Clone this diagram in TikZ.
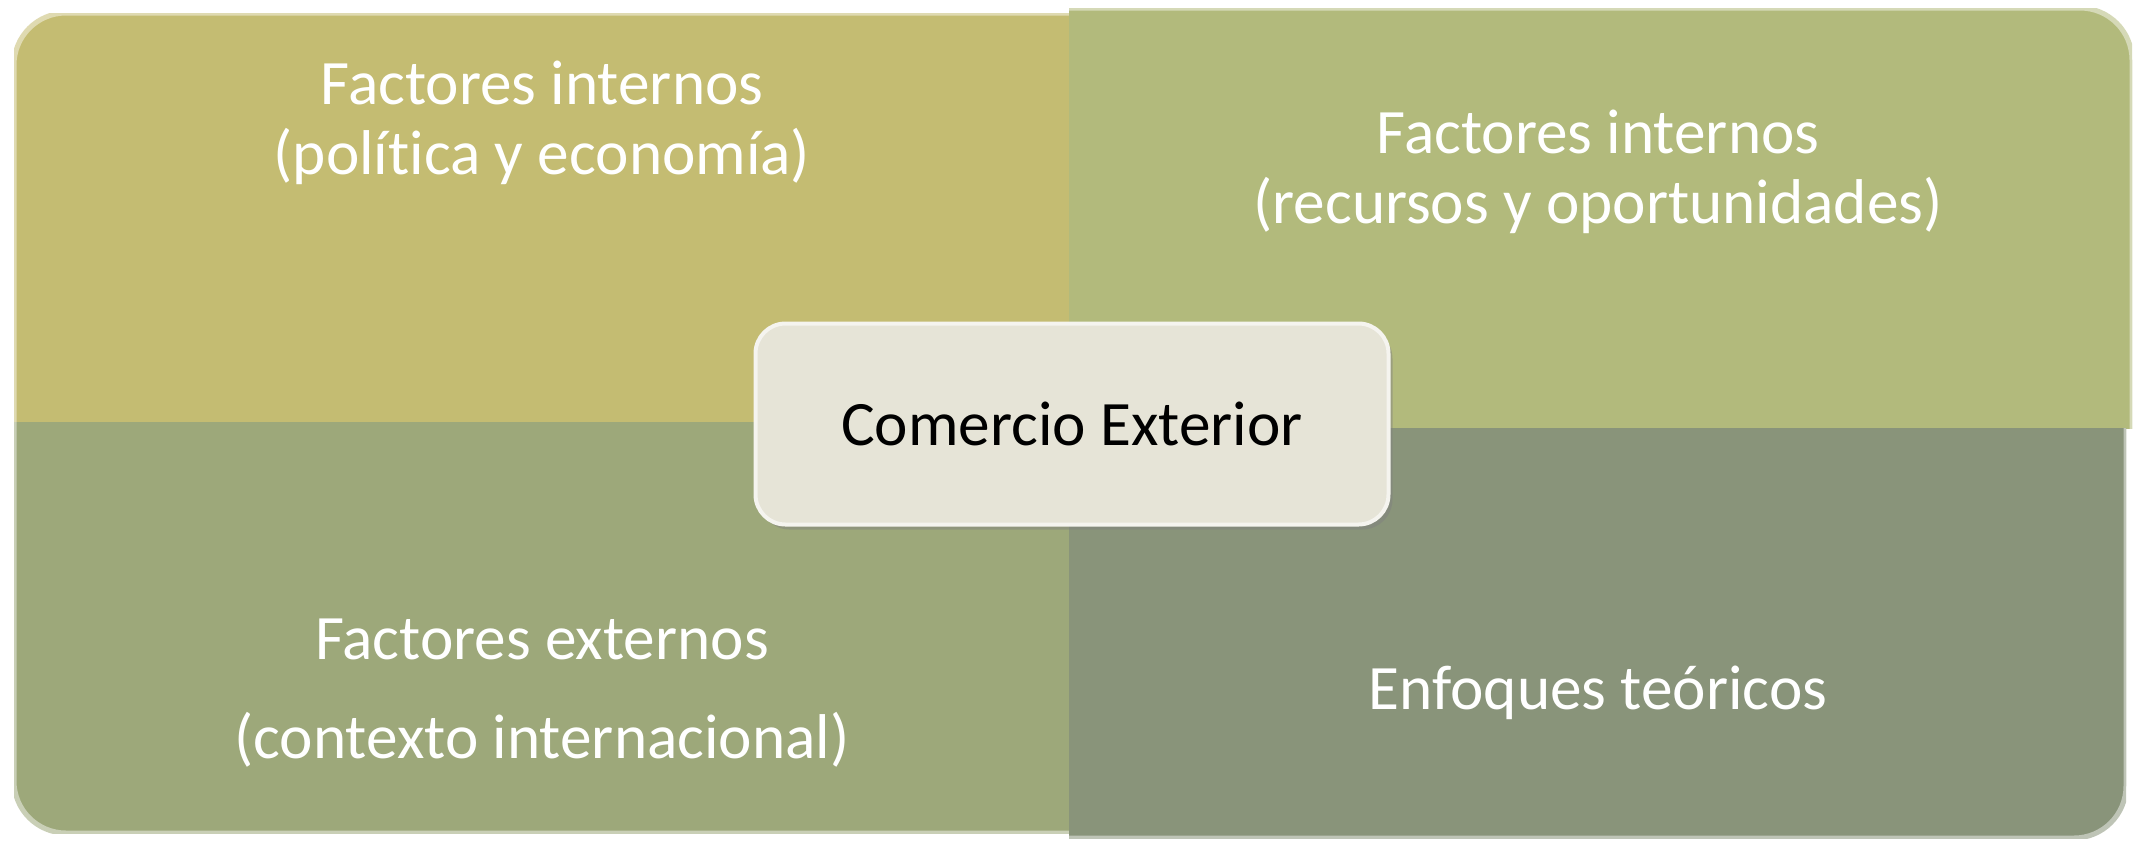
\documentclass[tikz,border=0pt]{standalone}
\usepackage{fontspec}
\setmainfont[Ligatures=NoCommon]{Carlito}
\usetikzlibrary{positioning, shadows}
\definecolor{tlfill}{HTML}{C4BC72}
\definecolor{trfill}{HTML}{B2BA7C}
\definecolor{blfill}{HTML}{9DA87A}
\definecolor{brfill}{HTML}{89947A}
\definecolor{hubfill}{HTML}{E6E4D7}
\tikzset{%
	quad/.style={line width=0.5mm, rounded corners=5.2mm},
	caption/.style={text=white, align=center, inner sep=0mm, font=\fontsize{18}{19.8}\selectfont},
	hub/.style={draw=hubfill!40!white, line width=0.4mm, rectangle, rounded corners=3mm, fill=hubfill,%
		minimum width=63.3mm, minimum height=20.1mm, font=\fontsize{18}{21}\selectfont,%
		drop shadow={shadow xshift=0.4mm, shadow yshift=-0.5mm, opacity=0.45}}
}

\begin{document}
\begin{tikzpicture}[x=0.1mm, y=-0.1mm]
	\useasboundingbox[fill=white] (0,0) rectangle (2136,844);

	% the four quarters, each with one rounded outer corner
	\begin{scope}
		\clip (14,13) rectangle (1069,422);
		\draw[quad, fill=tlfill, draw=tlfill!55!white] (14,13) rectangle (1300,700);
	\end{scope}
	\begin{scope}
		\clip (1069,8) rectangle (2132,428);
		\draw[quad, fill=trfill, draw=trfill!55!white] (800,8) rectangle (2132,700);
	\end{scope}
	\begin{scope}
		\clip (14,422) rectangle (1069,833);
		\draw[quad, fill=blfill, draw=blfill!55!white] (14,150) rectangle (1300,833);
	\end{scope}
	\begin{scope}
		\clip (1069,428) rectangle (2126,838);
		\draw[quad, fill=brfill, draw=brfill!55!white] (800,150) rectangle (2126,838);
	\end{scope}

	\node[caption] (pol) at (542,123) {Factores internos\\(política y economía)};
	\node[caption] (rec) at (1598,172) {Factores internos\\(recursos y oportunidades)};
	\node[caption] (ext) at (542,693) {Factores externos\\[3mm](contexto internacional)};
	\node[caption] (enf) at (1598,693) {Enfoques teóricos};

	\node[hub] (ce) at (1072,424) {Comercio Exterior};
\end{tikzpicture}
\end{document}
